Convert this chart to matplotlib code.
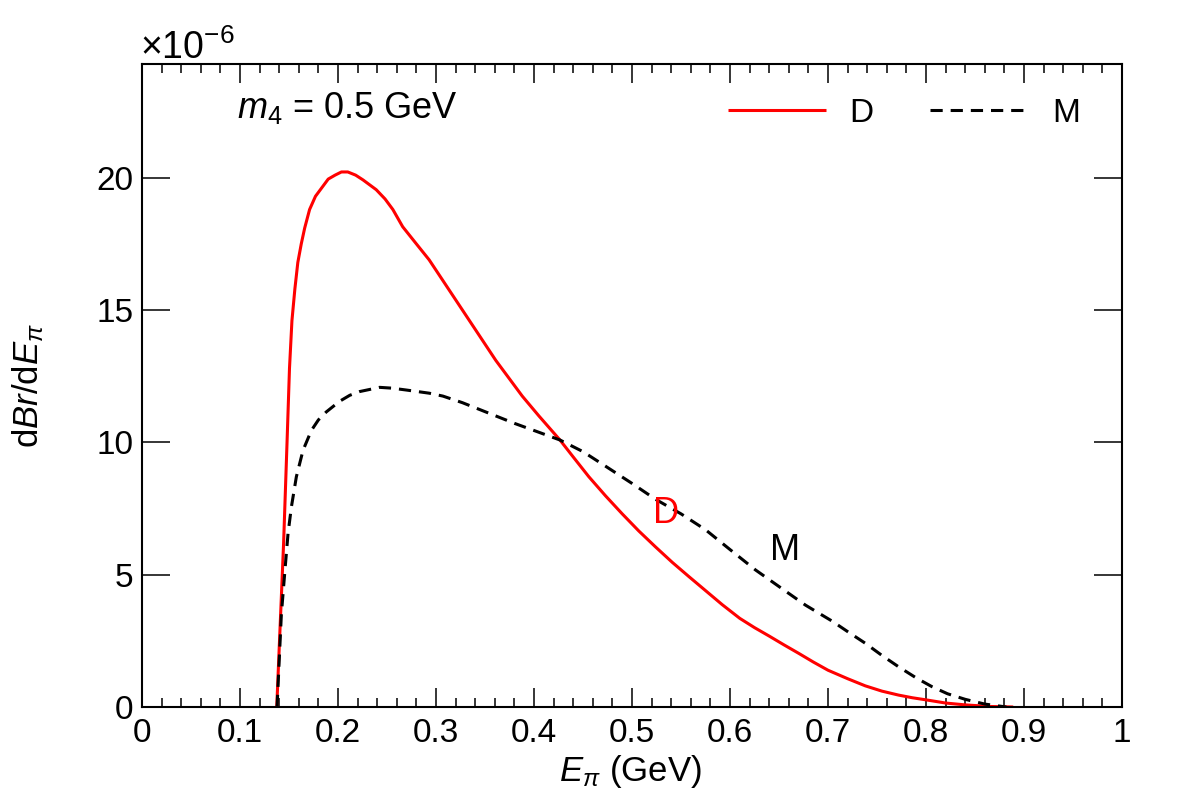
import numpy as np
import matplotlib
matplotlib.use("Agg")
import matplotlib.pyplot as plt
from matplotlib.ticker import AutoMinorLocator, NullLocator

plt.rcParams["font.family"] = ["Liberation Sans", "DejaVu Sans"]
plt.rcParams["mathtext.fontset"] = "custom"
plt.rcParams["mathtext.rm"] = "Liberation Sans"
plt.rcParams["mathtext.it"] = "Liberation Sans:italic"
plt.rcParams["mathtext.bf"] = "Liberation Sans:bold"

# spectra in units of 1e-6
d_energy = [0.1375, 0.1445, 0.148, 0.1505, 0.153, 0.156, 0.159, 0.1625, 0.166,
            0.171, 0.177, 0.185, 0.19, 0.197, 0.2035, 0.21, 0.218, 0.2255,
            0.239, 0.248, 0.256, 0.266, 0.28, 0.293, 0.31, 0.327, 0.344,
            0.361, 0.375, 0.388, 0.405, 0.4265, 0.44, 0.456, 0.473, 0.490,
            0.507, 0.524, 0.541, 0.558, 0.575, 0.592, 0.610, 0.625, 0.640,
            0.655, 0.670, 0.685, 0.700, 0.720, 0.738, 0.755, 0.772, 0.786,
            0.800, 0.820, 0.840, 0.865, 0.889]
d_rate = [0.0, 6.2, 10.0, 12.8, 14.6, 15.8, 16.8, 17.5, 18.1,
          18.8, 19.3, 19.7, 19.95, 20.1, 20.22, 20.22, 20.1, 19.92,
          19.55, 19.2, 18.8, 18.15, 17.5, 16.9, 15.95, 15.0, 14.05,
          13.1, 12.4, 11.75, 11.0, 10.09, 9.45, 8.7, 7.98, 7.3,
          6.65, 6.05, 5.47, 4.93, 4.4, 3.87, 3.35, 3.0, 2.68,
          2.35, 2.03, 1.7, 1.39, 1.07, 0.8, 0.6, 0.45, 0.35,
          0.27, 0.15, 0.08, 0.02, 0.0]

m_energy = [0.1378, 0.1422, 0.1456, 0.149, 0.1524, 0.1575, 0.1643, 0.1728, 0.180,
            0.188, 0.2015, 0.212, 0.222, 0.2425, 0.255, 0.2695, 0.293, 0.307,
            0.327, 0.344, 0.361, 0.380, 0.400, 0.4265, 0.450, 0.473, 0.500,
            0.524, 0.550, 0.575, 0.600, 0.626, 0.652, 0.677, 0.704, 0.720,
            0.738, 0.755, 0.772, 0.790, 0.806, 0.822, 0.840, 0.860, 0.882]
m_rate = [0.0, 3.5, 5.05, 6.55, 7.55, 8.7, 9.7, 10.45, 10.85,
          11.15, 11.55, 11.78, 11.92, 12.08, 12.05, 11.98, 11.86, 11.75,
          11.5, 11.25, 11.0, 10.72, 10.45, 10.09, 9.65, 9.1, 8.45,
          7.85, 7.3, 6.7, 5.95, 5.18, 4.5, 3.85, 3.25, 2.85,
          2.41, 1.95, 1.52, 1.1, 0.77, 0.5, 0.29, 0.11, 0.0]

x_ticks = [0.0, 0.1, 0.2, 0.3, 0.4, 0.5, 0.6, 0.7, 0.8, 0.9, 1.0]
x_tick_labels = ["0", "0.1", "0.2", "0.3", "0.4", "0.5", "0.6", "0.7", "0.8", "0.9", "1"]
y_ticks = [0, 5, 10, 15, 20]
y_tick_labels = ["0", "5", "10", "15", "20"]

FS = 24        # tick labels, legend
FS_TITLE = 25  # axis titles
FS_TEXT = 26   # in-plot text

fig = plt.figure(figsize=(11.82, 8.05), dpi=100)
fig.patch.set_facecolor("white")
ax = fig.add_axes([142 / 1182, 1 - 707 / 805, 980 / 1182, 643 / 805])

ax.plot(d_energy, d_rate, color="red", linewidth=2.2, label="D",
        solid_joinstyle="round", solid_capstyle="butt")
ax.plot(m_energy, m_rate, color="black", linewidth=2.2, linestyle=(0, (4, 2.6)),
        label="M")

ax.set_xlim(0, 1)
ax.set_ylim(0, 24.3)

ax.set_xticks(x_ticks)
ax.set_xticklabels(x_tick_labels)
ax.xaxis.set_minor_locator(AutoMinorLocator(5))
ax.set_yticks(y_ticks)
ax.set_yticklabels(y_tick_labels)
ax.yaxis.set_minor_locator(NullLocator())

ax.tick_params(which="both", direction="in", top=True, right=True,
               labelsize=FS, width=1.1, color="black")
ax.tick_params(axis="x", which="major", length=13.7, pad=8)
ax.tick_params(axis="x", which="minor", length=6.8)
ax.tick_params(axis="y", which="major", length=20.2, pad=6)
for spine in ax.spines.values():
    spine.set_linewidth(1.5)

ax.set_xlabel(r"$E_{\pi}$ (GeV)", fontsize=FS_TITLE, va="center")
ax.xaxis.set_label_coords(0.498, -0.101)
ax.set_ylabel(r"d$Br$/d$E_{\pi}$", fontsize=FS_TITLE, va="center")
ax.yaxis.set_label_coords(-0.116, 0.5)

ax.text(-0.002, 0.995, r"$\times$10$^{-6}$", transform=ax.transAxes, fontsize=27,
        ha="left", va="bottom")
ax.text(0.097, 0.932, r"$m_{4}$ = 0.5 GeV", transform=ax.transAxes,
        fontsize=FS_TEXT, ha="left", va="center")
ax.text(0.535, 7.3, "D", color="red", fontsize=FS_TEXT, ha="center", va="center")
ax.text(0.656, 5.9, "M", color="black", fontsize=FS_TEXT, ha="center", va="center")

ax.legend(loc="center right", bbox_to_anchor=(0.957, 0.923), ncol=2,
          frameon=False, fontsize=FS, handlelength=2.95, handletextpad=0.7,
          columnspacing=1.7, borderpad=0, borderaxespad=0)

fig.savefig("out.png", dpi=100)
